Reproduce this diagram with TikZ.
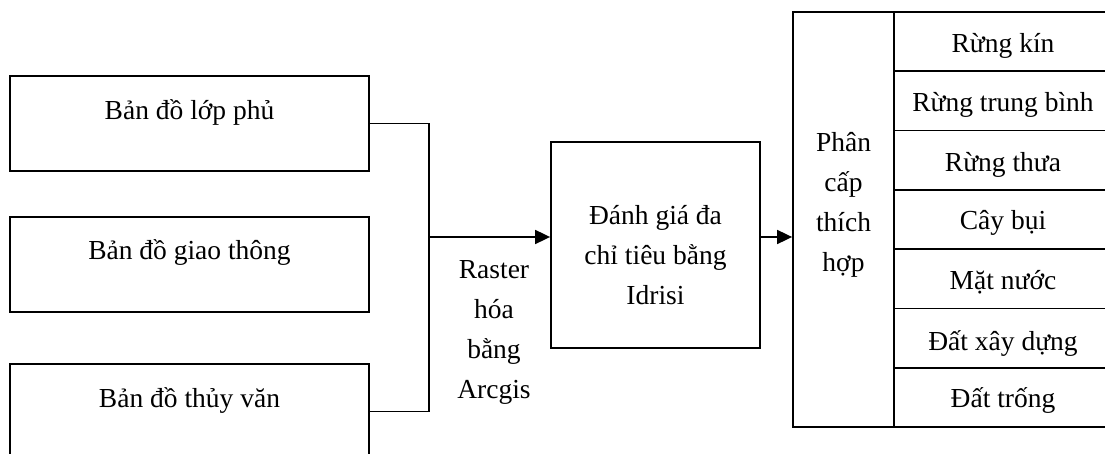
\documentclass[tikz,border=0pt]{standalone}
\usepackage{fontspec}
\setmainfont{Liberation Serif}
\usetikzlibrary{arrows.meta}
\begin{document}
\begin{tikzpicture}[x=1pt,y=-1pt,
  box/.style={draw, line width=1.8pt, inner sep=0pt},
  txt/.style={anchor=base, inner sep=0pt, font=\fontsize{27.5}{40}\selectfont},
  wire/.style={line width=1.8pt},
  flow/.style={wire, -{Triangle[length=15pt,width=14pt]}}]
\useasboundingbox (0,0) rectangle (1105,454);

% input maps
\node[box, minimum width=359, minimum height=95] (b1) at (189.5,123.5) {};
\node[box, minimum width=359, minimum height=95] (b2) at (189.5,264.5) {};
\node[box, minimum width=359, minimum height=95] (b3) at (189.5,411.5) {};
\node[txt] (t1) at (189.5,120) {Bản đồ lớp phủ};
\node[txt] (t2) at (189.5,260) {Bản đồ giao thông};
\node[txt] (t3) at (189.5,407) {Bản đồ thủy văn};

% multi-criteria evaluation
\node[box, minimum width=209, minimum height=206] (mid) at (655.5,245) {};
\node[txt] (m1) at (655.5,225) {Đánh giá đa};
\node[txt] (m2) at (655.5,265) {chỉ tiêu bằng};
\node[txt] (m3) at (655.5,305) {Idrisi};

% rasterisation label
\node[txt] (r1) at (494,278) {Raster};
\node[txt] (r2) at (494,318) {hóa};
\node[txt] (r3) at (494,358) {bằng};
\node[txt] (r4) at (494,398) {Arcgis};

% suitability classes
\node[box, minimum width=101, minimum height=415] (phan) at (843.5,219.5) {};
\node[txt] (p1) at (843.5,152) {Phân};
\node[txt] (p2) at (843.5,192) {cấp};
\node[txt] (p3) at (843.5,232) {thích};
\node[txt] (p4) at (843.5,272) {hợp};

\foreach \lab/\base [count=\i from 0] in {Rừng kín/53, Rừng trung bình/112, Rừng thưa/172, Cây bụi/230, Mặt nước/290, Đất xây dựng/350, Đất trống/407}{
  \node[box, minimum width=218, minimum height=59.29] (row\i) at (1003,{12+59.29*(\i+0.5)}) {};
  \node[txt] (rt\i) at (1003,\base) {\lab};
}

% connectors
\coordinate (j) at (429,237);
\draw[wire] (b1.east) -| (j) |- (b3.east);
\draw[flow] (j) -- (j -| mid.west);
\draw[flow] (j -| mid.east) -- (j -| phan.west);
\end{tikzpicture}
\end{document}
